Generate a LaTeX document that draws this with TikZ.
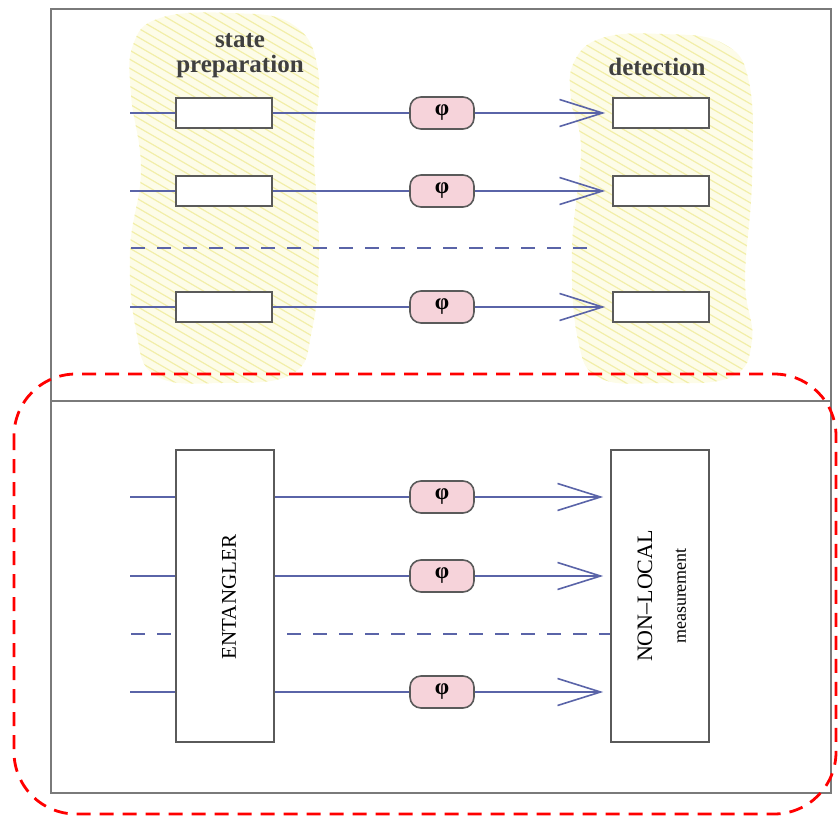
\documentclass[tikz,border=0pt]{standalone}
\usepackage{fontspec}
\setmainfont{Liberation Serif}
\usetikzlibrary{arrows.meta}
\definecolor{wire}{HTML}{5A64A8}
\definecolor{boxline}{HTML}{5A5A5A}
\definecolor{frameline}{HTML}{7A7A7A}
\definecolor{phifill}{HTML}{F6D3DA}
\definecolor{hatchyel}{HTML}{F2EEA8}
\definecolor{blobfill}{HTML}{FDFCE8}
\tikzset{
  wireline/.style={draw=wire,line width=1.6pt},
  dashwire/.style={draw=wire,line width=1.6pt,dash pattern=on 14pt off 12pt},
  smallbox/.style={draw=boxline,line width=1.6pt,fill=white,minimum width=96pt,minimum height=30pt,inner sep=0pt},
  bigbox/.style={draw=boxline,line width=1.6pt,fill=white,minimum width=98pt,minimum height=292pt,inner sep=0pt},
  phinode/.style={draw=boxline,line width=1.6pt,fill=phifill,rounded corners=11pt,minimum width=64pt,minimum height=32pt,inner sep=0pt,font=\fontsize{23}{23}\selectfont\bfseries},
  barb/.style={-{Straight Barb[length=43pt,width=27pt,line width=1.6pt]},shorten >=7pt},
  label/.style={font=\fontsize{25}{25}\selectfont\bfseries,text=black!75,align=center,inner sep=0pt}
}
\begin{document}
\begin{tikzpicture}[x=1pt,y=-1pt]
\useasboundingbox (0,0) rectangle (838,821);
% hatched blobs
\def\blobA{plot[smooth cycle,tension=0.7] coordinates {(133,45) (160,18) (230,13) (292,24) (318,70) (314,150) (319,250) (312,330) (292,374) (222,383) (156,376) (136,330) (130,250) (141,170) (131,95)}}
\def\blobB{plot[smooth cycle,tension=0.7] coordinates {(574,62) (602,38) (662,34) (722,43) (749,82) (752,180) (745,280) (752,340) (731,377) (660,383) (600,378) (578,340) (572,250) (581,150) (571,100)}}
\fill[blobfill] \blobA;
\fill[blobfill] \blobB;
\begin{scope}
\clip \blobA;
\foreach \k in {-300,-291,...,500} {\draw[hatchyel,line width=1.2pt] (100,\k) -- (350,\k+145);}
\end{scope}
\begin{scope}
\clip \blobB;
\foreach \k in {-300,-291,...,500} {\draw[hatchyel,line width=1.2pt] (550,\k) -- (780,\k+133);}
\end{scope}
% frame
\draw[frameline,line width=2pt] (51,9) rectangle (831,793);
\draw[frameline,line width=2pt] (51,401) -- (831,401);
% labels
\node[label] (lprep) at (240,56) {state\\preparation};
\node[label] (ldet) at (657,67) {detection};
% top rows
\foreach \i/\y in {1/113,2/191,3/307} {
  \coordinate (s\i) at (130,\y);
  \node[smallbox] (L\i) at (224,\y) {};
  \node[phinode] (p\i) at (442,\y) {φ};
  \node[smallbox] (R\i) at (661,\y) {};
  \draw[wireline] (s\i) -- (L\i);
  \draw[wireline] (L\i) -- (p\i);
  \draw[wireline,barb] (p\i) -- (R\i);
}
\coordinate (d1a) at (131,248);
\coordinate (d1b) at (597,248);
\draw[dashwire] (d1a) -- (d1b);
% bottom
\coordinate (d2a) at (131,634);
\coordinate (d2b) at (611,634);
\draw[dashwire] (d2a) -- (d2b);
\node[bigbox] (ent) at (225,596) {};
\node[bigbox] (nlm) at (660,596) {};
\node[rotate=90,font=\fontsize{21}{21}\selectfont,inner sep=0pt] (enttxt) at (229,597) {ENTANGLER};
\node[rotate=90,font=\fontsize{22}{22}\selectfont,inner sep=0pt] (nltxt) at (645,596) {NON–LOCAL};
\node[rotate=90,font=\fontsize{18}{18}\selectfont,inner sep=0pt] (meastxt) at (681,596) {measurement};
\foreach \i/\y in {4/497,5/576,6/692} {
  \coordinate (s\i) at (130,\y);
  \node[phinode] (p\i) at (442,\y) {φ};
  \draw[wireline] (s\i) -- (s\i -| ent.west);
  \draw[wireline] (s\i -| ent.east) -- (p\i);
  \draw[wireline,barb] (p\i) -- (p\i -| nlm.west);
}
% red dashed rounded frame
\draw[red,line width=2.8pt,dash pattern=on 14pt off 9pt,rounded corners=62pt] (14,374) rectangle (836,814);
\end{tikzpicture}
\end{document}
